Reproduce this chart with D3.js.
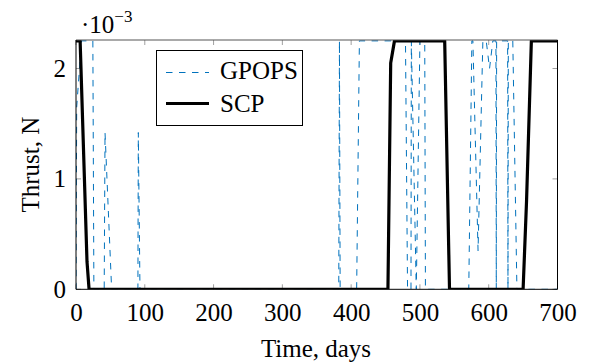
<!DOCTYPE html>
<html>
<head>
<meta charset="utf-8">
<script src="https://cdn.jsdelivr.net/npm/d3@7"></script>
<style>
  html, body { margin: 0; padding: 0; background: #fff; }
  svg { display: block; }
  text { font-family: "Liberation Serif", "Times New Roman", serif; fill: #000; }
</style>
</head>
<body>
<svg id="chart" width="591" height="363"></svg>
<script>
// ---- data (thrust in units of 1e-3 N, time in days) ----
const scpTime   = [0, 6, 16, 19, 453.5, 457.5, 463, 536, 543, 650, 655, 662, 700];
const scpThrust = [2.25, 2.25, 0.25, 0, 0, 2.05, 2.25, 2.25, 0, 0, 0.8, 2.25, 2.25];

const gpopsTime   = [0, 1, 8, 24.5, 26, 41, 42.2, 51.8, 90, 90.6, 93, 382, 383, 384,
                     408, 412, 479, 482, 487, 487.5, 494.7, 500, 507, 508,
                     571, 575.5, 577, 584.5, 591.5, 596.4, 601.2, 606,
                     610.5, 611, 611.5, 627.5, 628, 628.5, 635, 641, 700];
const gpopsThrust = [0, 1.65, 2.25, 2.25, 0, 0, 1.42, 0, 0, 1.42, 0, 0, 2.25, 0,
                     0, 2.25, 2.25, 0, 0, 2.25, 0, 2.25, 2.25, 0,
                     0, 2.25, 2.25, 0.35, 2.25, 2.25, 2.0, 2.25,
                     2.25, 0, 2.25, 2.25, 0, 2.25, 2.25, 0, 0];

const xTicks = [0, 100, 200, 300, 400, 500, 600, 700];
const yTicks = [0, 1, 2];
const seriesNames = ["GPOPS", "SCP"];
const xLabel = "Time, days";
const yLabel = "Thrust, N";

// ---- layout ----
const FS = 25;
const svg = d3.select("#chart");
const X0 = 76, X1 = 557.5, YT = 40, YB = 289.3;
const x = d3.scaleLinear().domain([0, 700]).range([X0, X1]);
const y = d3.scaleLinear().domain([0, 2.258]).range([YB, YT]);

const blue = "#0072bd";

svg.append("defs").append("clipPath").attr("id", "clip")
  .append("rect").attr("x", X0).attr("y", YT).attr("width", X1 - X0).attr("height", YB - YT);

// inner gray ticks
const tickLen = 5, tickColor = "#a0a0a0";
const g = svg.append("g");
xTicks.forEach(t => {
  g.append("line").attr("x1", x(t)).attr("x2", x(t)).attr("y1", YB).attr("y2", YB - tickLen)
    .attr("stroke", tickColor).attr("stroke-width", 1);
  g.append("line").attr("x1", x(t)).attr("x2", x(t)).attr("y1", YT).attr("y2", YT + tickLen)
    .attr("stroke", tickColor).attr("stroke-width", 1);
});
yTicks.forEach(v => {
  g.append("line").attr("x1", X0).attr("x2", X0 + tickLen).attr("y1", y(v)).attr("y2", y(v))
    .attr("stroke", tickColor).attr("stroke-width", 1);
  g.append("line").attr("x1", X1).attr("x2", X1 - tickLen).attr("y1", y(v)).attr("y2", y(v))
    .attr("stroke", tickColor).attr("stroke-width", 1);
});

// data lines
const line = d3.line().x(d => x(d[0])).y(d => y(d[1]));
const plot = svg.append("g").attr("clip-path", "url(#clip)");
plot.append("path")
  .datum(gpopsTime.map((t, i) => [t, gpopsThrust[i]]))
  .attr("d", line).attr("fill", "none").attr("stroke", blue)
  .attr("stroke-width", 1).attr("stroke-dasharray", "6.5,6.5");
plot.append("path")
  .datum(scpTime.map((t, i) => [t, scpThrust[i]]))
  .attr("d", line).attr("fill", "none").attr("stroke", "#000")
  .attr("stroke-width", 3.2).attr("stroke-linejoin", "round");

// frame
svg.append("line").attr("x1", X0).attr("x2", X1).attr("y1", YT).attr("y2", YT).attr("stroke", "#555").attr("stroke-width", 1);
svg.append("line").attr("x1", X0).attr("x2", X1).attr("y1", YB).attr("y2", YB).attr("stroke", "#000").attr("stroke-width", 1);
svg.append("line").attr("x1", X0).attr("x2", X0).attr("y1", YT).attr("y2", YB).attr("stroke", "#000").attr("stroke-width", 1);
svg.append("line").attr("x1", X1).attr("x2", X1).attr("y1", YT).attr("y2", YB).attr("stroke", "#000").attr("stroke-width", 1);

// tick labels via axes (domain/ticks hidden, only labels)
const xAxis = svg.append("g").attr("transform", `translate(0,${YB})`)
  .call(d3.axisBottom(x).tickValues(xTicks).tickSize(0).tickPadding(14).tickFormat(d3.format("d")));
xAxis.select(".domain").remove();
xAxis.selectAll("text").attr("font-size", FS).attr("font-family", "Liberation Serif").attr("fill", "#000");

const yAxis = svg.append("g").attr("transform", `translate(${X0},0)`)
  .call(d3.axisLeft(y).tickValues(yTicks).tickSize(0).tickPadding(10).tickFormat(d3.format("d")));
yAxis.select(".domain").remove();
yAxis.selectAll("text").attr("font-size", FS).attr("font-family", "Liberation Serif").attr("fill", "#000");

// scale factor label
const sf = svg.append("text").attr("x", 81).attr("y", 33).attr("font-size", FS);
sf.append("tspan").text("·10");
sf.append("tspan").attr("font-size", 17).attr("dy", -11).text("−3");

// axis labels
svg.append("text").attr("x", 316).attr("y", 357).attr("text-anchor", "middle")
  .attr("font-size", FS).text(xLabel);
svg.append("text").attr("transform", `translate(39,${(YT + YB) / 2}) rotate(-90)`)
  .attr("text-anchor", "middle").attr("font-size", FS).text(yLabel);

// legend
const lg = svg.append("g");
lg.append("rect").attr("x", 156.5).attr("y", 50.5).attr("width", 146).attr("height", 75)
  .attr("fill", "#fff").attr("stroke", "#000").attr("stroke-width", 1);
lg.append("line").attr("x1", 166).attr("x2", 209).attr("y1", 72.5).attr("y2", 72.5)
  .attr("stroke", blue).attr("stroke-width", 1).attr("stroke-dasharray", "6.5,6.5");
lg.append("line").attr("x1", 166).attr("x2", 209).attr("y1", 103.5).attr("y2", 103.5)
  .attr("stroke", "#000").attr("stroke-width", 3.2);
lg.append("text").attr("x", 220).attr("y", 79).attr("font-size", FS).text(seriesNames[0]);
lg.append("text").attr("x", 220).attr("y", 112).attr("font-size", FS).text(seriesNames[1]);
</script>
</body>
</html>
